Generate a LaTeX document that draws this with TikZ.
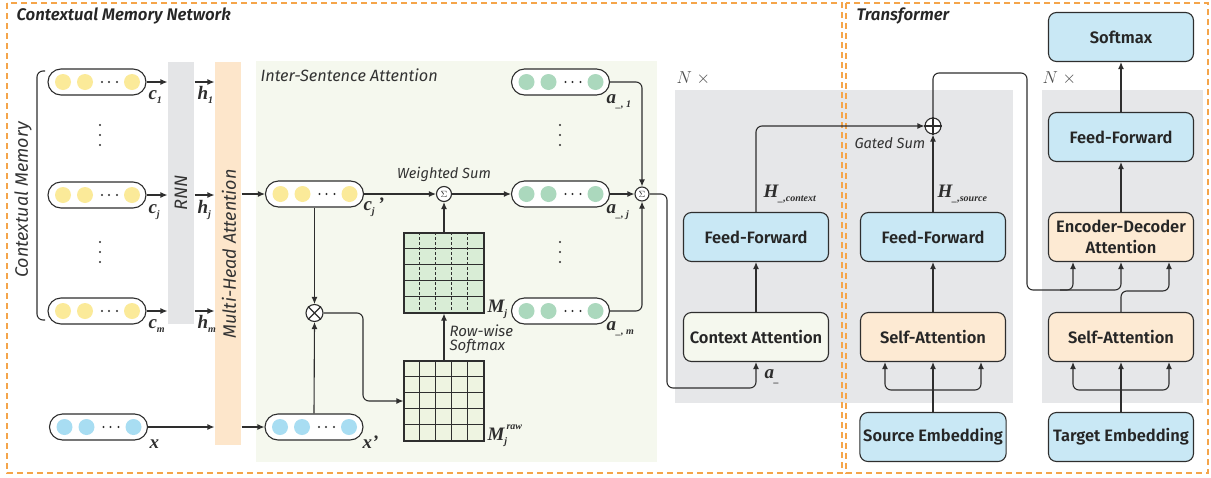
\documentclass[tikz,border=0pt]{standalone}
\usepackage{fontspec}
\setmainfont{Fira Sans}[BoldFont={Fira Sans SemiBold},BoldItalicFont={Fira Sans SemiBold Italic}]
\newfontfamily\lblfont{Liberation Serif}
\usetikzlibrary{arrows.meta,calc}

\definecolor{dashorange}{HTML}{F5A54A}
\definecolor{panelgray}{HTML}{E6E7E9}
\definecolor{panelgreen}{HTML}{F5F8EE}
\definecolor{boxblue}{HTML}{C9E8F5}
\definecolor{boxorange}{HTML}{FDEAD3}
\definecolor{barorange}{HTML}{FDE6CB}
\definecolor{bargray}{HTML}{E4E5E7}
\definecolor{dotyellow}{HTML}{FBEA99}
\definecolor{dotblue}{HTML}{A8DDF2}
\definecolor{dotgreen}{HTML}{ABD8BD}
\definecolor{rawgreen}{HTML}{EEF4E1}
\definecolor{mjgreen}{HTML}{D9EDD6}
\definecolor{inkgray}{HTML}{2E2E2E}

\newcommand{\blockfont}{\fontsize{16.5}{21}\selectfont\bfseries}
\newcommand{\notefont}{\fontsize{14.6}{13}\selectfont\itshape}
\newcommand{\sidefont}{\fontsize{18}{18}\selectfont\itshape}
\newcommand{\titlefont}{\fontsize{16.8}{18}\selectfont\bfseries\itshape}
\newcommand{\vecfont}{\lblfont\bfseries\itshape\fontsize{19}{19}\selectfont}
\newcommand{\subfont}{\lblfont\bfseries\itshape\fontsize{10}{10}\selectfont}
% bold vector name with a lowered index
\newcommand{\vlabel}[2]{{\vecfont #1}\raisebox{-4pt}{\subfont #2}}

% a word vector: capsule with three dots and an ellipsis
\newcommand{\seqvec}[4]{%
  \node[capsule] (#1) at (#2,#3) {};
  \foreach \dx in {-34,-12,35} \fill[#4] ({#2+\dx},#3) circle (8pt);
  \foreach \dx in {5,12,20} \fill[inkgray] ({#2+\dx},#3) circle (1.1pt);
}
% three vertical dots
\newcommand{\vdotsat}[2]{%
  \foreach \dy in {-10,0,10} \fill[inkgray] (#1,{#2+\dy}) circle (1.2pt);
}

\begin{document}
\begin{tikzpicture}[x=1pt, y=-1pt, line width=1.1pt, color=inkgray,
    arr/.style = {-{Latex[length=7pt,width=6pt]}},
    rc/.style = {rounded corners=6pt},
    capsule/.style = {draw, fill=white, rounded corners=13pt,
      minimum width=98pt, minimum height=26pt, inner sep=0pt},
    bar/.style = {minimum width=26pt, inner sep=0pt},
    block/.style = {draw, rounded corners=8pt, minimum width=145pt,
      minimum height=49pt, align=center, font=\blockfont, text=black!85},
    opnode/.style = {draw, circle, fill=white, inner sep=0pt},
    matbox/.style = {draw, minimum size=80pt, inner sep=0pt},
    lbl/.style = {inner sep=0pt, anchor=base west},
    note/.style = {inner sep=0pt, font=\notefont, text=black!80},
    side/.style = {inner sep=0pt, font=\sidefont, text=black!80, rotate=90},
    title/.style = {inner sep=0pt, anchor=base west, font=\titlefont, text=black!85}]

  \useasboundingbox (0,0) rectangle (1211,477);

  % background panels
  \fill[panelgreen] (256,61) rectangle (657,462);
  \fill[panelgray] (675,90) rectangle (1013,403);
  \fill[panelgray] (1042,90) rectangle (1203,403);

  % dashed frames
  \draw[dashorange, line width=1.6pt, dash pattern=on 6pt off 4pt] (7,3) rectangle (842,473);
  \draw[dashorange, line width=1.6pt, dash pattern=on 6pt off 4pt] (846,3) rectangle (1208,473);
  \node[title] at (16,20) {Contextual Memory Network};
  \node[title] at (856,20) {Transformer};
  \node[note, anchor=base west, font=\fontsize{16.3}{16}\selectfont\itshape] at (260,81) {Inter-Sentence Attention};

  % contextual memory
  \seqvec{c1}{97}{82}{dotyellow}
  \seqvec{cj}{97}{195}{dotyellow}
  \seqvec{cm}{97}{311}{dotyellow}
  \seqvec{x}{98.5}{427}{dotblue}
  \vdotsat{100}{135}
  \vdotsat{100}{252}
  \draw[rounded corners=6pt] (45,71) -- (37,71) -- (37,320) -- (45,320);
  \node[side] at (23,200) {Contextual Memory};

  \node[bar, fill=bargray, minimum height=262pt] (rnn) at (181,193) {};
  \node[side] at (rnn.center) {RNN};
  \node[bar, fill=barorange, minimum height=383pt] (mha) at (228,253.5) {};
  \node[side] at (229,254) {Multi-Head Attention};

  \foreach \row in {c1,cj,cm} {
    \draw[arr] (\row.east) -- (\row.east -| rnn.west);
    \draw[arr] (\row.east -| rnn.east) -- (\row.east -| mha.west);
  }
  \draw[arr] (x.east) -- (x.east -| mha.west);

  \node[lbl] at (148,99) {\vlabel{c}{1}};
  \node[lbl] at (197,99) {\vlabel{h}{1}};
  \node[lbl] at (148,213) {\vlabel{c}{j}};
  \node[lbl] at (197,213) {\vlabel{h}{j}};
  \node[lbl] at (148,328) {\vlabel{c}{m}};
  \node[lbl] at (197,328) {\vlabel{h}{m}};
  \node[lbl] at (149,448) {\vlabel{x}{}};

  % inter-sentence attention
  \seqvec{cjp}{314.5}{194}{dotyellow}
  \seqvec{xp}{314}{427}{dotblue}
  \seqvec{a1}{560.5}{82}{dotgreen}
  \seqvec{aj}{560.5}{194}{dotgreen}
  \seqvec{am}{560.5}{311}{dotgreen}
  \vdotsat{560}{135}
  \vdotsat{560}{252}

  \node[opnode, minimum size=15pt, font=\fontsize{9}{9}\selectfont] (wsum) at (444,194) {$\Sigma$};
  \node[opnode, minimum size=14pt, font=\fontsize{9}{9}\selectfont] (osum) at (642,194) {$\Sigma$};
  \node[opnode, minimum size=17pt] (mul) at (314.5,313) {};
  \draw (mul.45) -- (mul.225) (mul.135) -- (mul.315);

  \node[matbox, fill=rawgreen] (mraw) at (444,401) {};
  \node[matbox, fill=mjgreen] (mj) at (444,273) {};
  \foreach \k in {1,...,4} {
    \draw[line width=0.9pt] (mraw.north west) ++(16*\k,0) -- ++(0,80);
    \draw[line width=0.9pt] (mraw.north west) ++(0,16*\k) -- ++(80,0);
    \draw[line width=0.9pt, dash pattern=on 3pt off 2pt] (mj.north west) ++(16*\k,0) -- ++(0,80);
    \draw[line width=0.9pt] (mj.north west) ++(0,16*\k) -- ++(80,0);
  }

  \draw[arr] (mha.east |- cjp.west) -- (cjp.west);
  \draw[arr] (mha.east |- xp.west) -- (xp.west);
  \draw[arr] (cjp.east) -- (wsum.west);
  \draw[arr] (wsum.east) -- (aj.west);
  \draw[arr] (cjp.south) -- (mul.north);
  \draw[arr] (xp.north) -- (mul.south);
  \coordinate (mulbend) at (363,401);
  \draw[arr, rc] (mul.east) -| (mulbend) -- (mraw.west);
  \draw[arr] (mraw.north) -- (mj.south);
  \draw[arr] (mj.north) -- (wsum.south);
  \draw[arr, rc] (a1.east) -| (osum.north);
  \draw[arr] (aj.east) -- (osum.west);
  \draw[arr, rc] (am.east) -| (osum.south);

  \node[note, anchor=base] at (444,178) {Weighted Sum};
  \node[note, anchor=base west, font=\fontsize{15}{14}\selectfont\itshape] at (449,336) {Row-wise};
  \node[note, anchor=base west, font=\fontsize{15}{14}\selectfont\itshape] at (449,350) {Softmax};
  \node[lbl] at (363,210) {\vlabel{c}{j}{\vecfont\,’}};
  \node[lbl] at (362,448) {{\vecfont x’}};
  \node[lbl] at (606,103) {\vlabel{a}{\_, 1}};
  \node[lbl] at (606,213) {\vlabel{a}{\_, j}};
  \node[lbl] at (606,330) {\vlabel{a}{\_, m}};
  \node[lbl] at (487,312) {\vlabel{M}{j}};
  \node[lbl] at (487,440) {\vlabel{M}{j}};
  \node[lbl, font=\subfont] at (506,429) {raw};

  % context encoder
  \node[block, fill=panelgreen] (ctxatt) at (756,337) {Context Attention};
  \node[block, fill=boxblue] (ctxff) at (756,237) {Feed-Forward};
  \coordinate (aout) at (667,388);
  \draw[arr, rc] (osum.east) -| (aout) -| (ctxatt.south);
  \draw[arr] (ctxatt.north) -- (ctxff.south);
  \node[lbl] at (764,378) {\vlabel{a}{\_}};
  \node[lbl] at (763,197) {\vlabel{H}{\_,context}};
  \node[lbl, text=black!70] at (676,83) {\fontsize{17.5}{17}\selectfont$N$ $\times$};

  % source encoder
  \node[block, fill=boxblue] (srcemb) at (933,437) {Source Embedding};
  \node[block, fill=boxorange] (srcself) at (933,337) {Self-Attention};
  \node[block, fill=boxblue] (srcff) at (933,237) {Feed-Forward};
  \node[opnode, minimum size=16pt] (gsum) at (933,126) {};
  \draw (gsum.north) -- (gsum.south) (gsum.west) -- (gsum.east);
  \draw[arr] (srcemb.north) -- (srcself.south);
  \draw[arr, rc] (srcemb.north |- 0,390) -| ([xshift=-48pt]srcself.south);
  \draw[arr, rc] (srcemb.north |- 0,390) -| ([xshift=48pt]srcself.south);
  \draw[arr] (srcself.north) -- (srcff.south);
  \draw[arr] (srcff.north) -- (gsum.south);
  \draw[arr, rc] (ctxff.north) |- (gsum.west);
  \node[note, anchor=base west] at (854,148) {Gated Sum};
  \node[lbl] at (937,197) {\vlabel{H}{\_,source}};

  % decoder
  \node[block, fill=boxblue] (tgtemb) at (1121,437) {Target Embedding};
  \node[block, fill=boxorange] (decself) at (1121,337) {Self-Attention};
  \node[block, fill=boxorange] (encdec) at (1121,237) {Encoder-Decoder\\Attention};
  \node[block, fill=boxblue] (decff) at (1121,137) {Feed-Forward};
  \node[block, fill=boxblue] (softmax) at (1121,37) {Softmax};
  \node[lbl, text=black!70] at (1042,83) {\fontsize{17.5}{17}\selectfont$N$ $\times$};
  \draw[arr] (tgtemb.north) -- (decself.south);
  \draw[arr, rc] (tgtemb.north |- 0,390) -| ([xshift=-48pt]decself.south);
  \draw[arr, rc] (tgtemb.north |- 0,390) -| ([xshift=48pt]decself.south);
  \draw[arr, rc] (decself.north) -- ++(0,-21) -| ([xshift=48pt]encdec.south);
  \coordinate (memtop) at (1027,73);
  \draw[arr, rc] (gsum.north) |- (memtop) -- (memtop |- 0,290) -| ([xshift=-48pt]encdec.south);
  \draw[arr, rc] (1060,290) -| (encdec.south);
  \draw[arr] (encdec.north) -- (decff.south);
  \draw[arr] (decff.north) -- (softmax.south);
\end{tikzpicture}
\end{document}
